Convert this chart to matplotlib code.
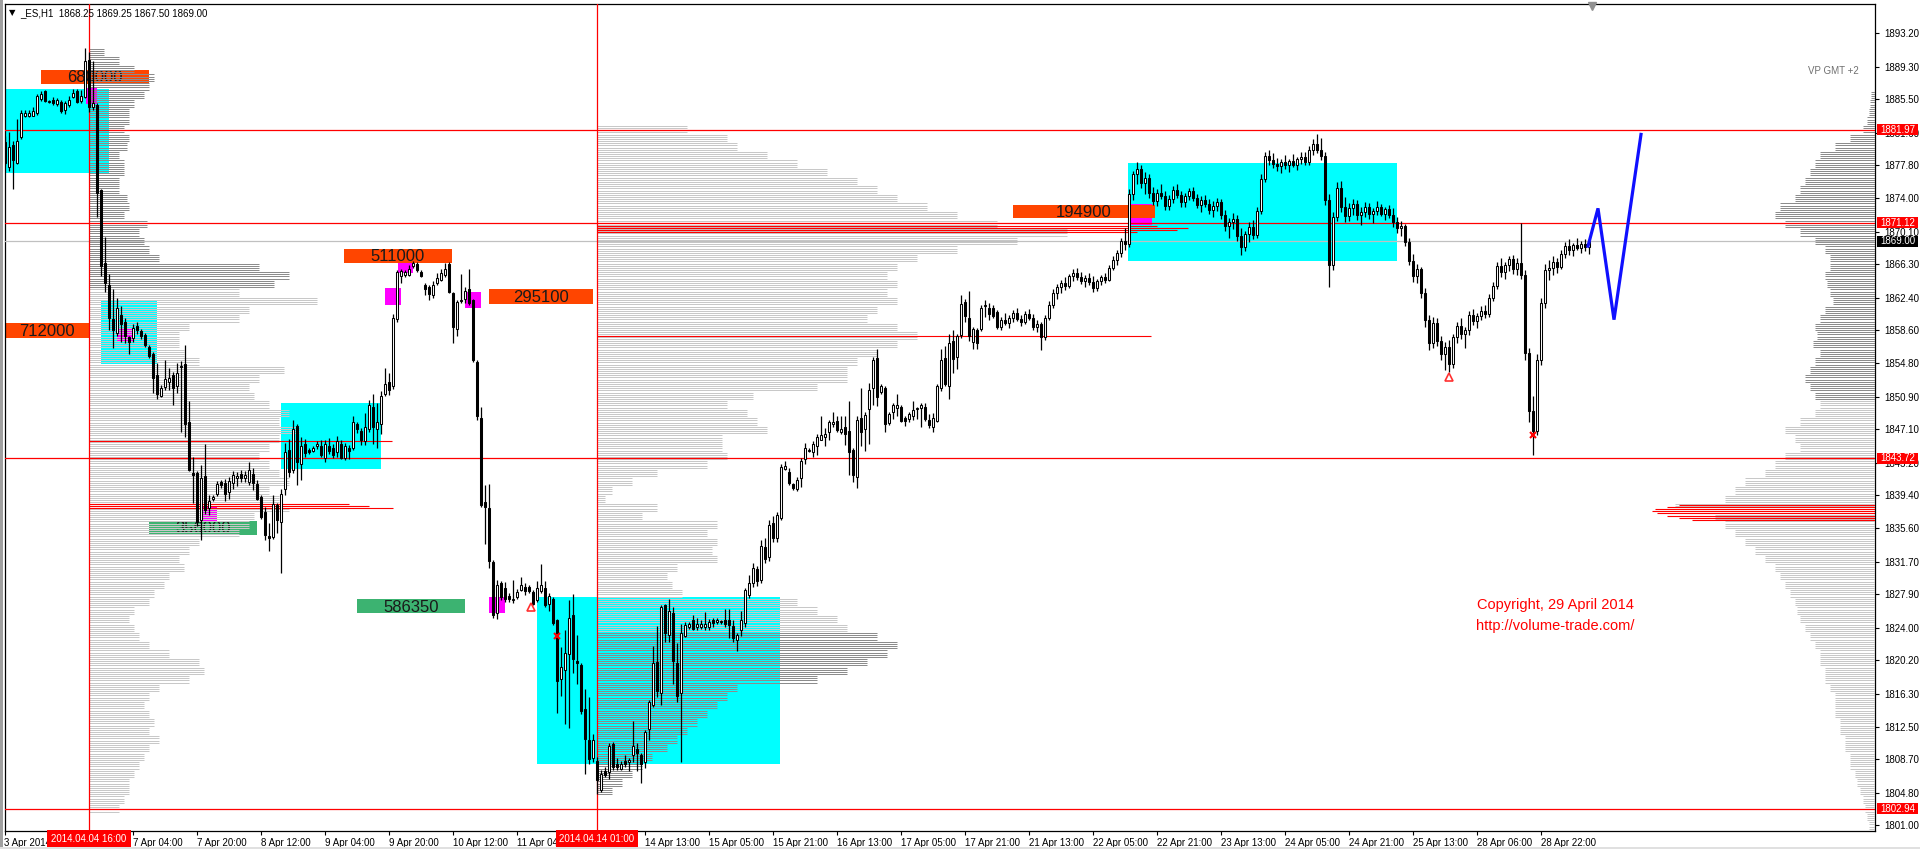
import numpy as np
import matplotlib
matplotlib.use("Agg")
import matplotlib.pyplot as plt
from matplotlib.patches import Rectangle
import matplotlib.transforms as mtransforms

plt.rcParams['font.family'] = ['Liberation Sans', 'DejaVu Sans']

# ---------------- data: hourly ES candles (bar index = hour slot) ----------------
opens = [
 1880.5,1877.6,1880.2,1878.1,1881.1,1883.6,1883.6,1883.6,1883.9,1885.5,
 1886.5,1885.2,1885.4,1884.9,1885.2,1884.2,1884.8,1885.8,1886.5,1885.3,
 1885.8,1890.1,1884.6,1884.8,1874.9,1866.4,1863.9,1859.9,1858.3,1860.4,
 1859.6,1857.8,1857.7,1859.1,1858.5,1858.1,1856.7,1855.9,1853.4,1851.0,
 1852.0,1852.6,1853.4,1852.1,1854.4,1854.7,1847.9,1842.0,1842.0,1836.5,
 1841.7,1837.9,1839.0,1839.6,1841.0,1840.9,1839.8,1840.8,1841.4,1841.9,
 1841.4,1841.0,1841.9,1840.7,1839.2,1837.5,1834.7,1834.6,1838.3,1836.3,
 1840.1,1844.7,1842.4,1847.5,1843.1,1845.4,1844.7,1844.6,1845.1,1845.2,
 1843.8,1845.2,1844.9,1844.4,1845.4,1843.8,1844.9,1844.9,1847.7,1846.9,
 1845.7,1847.1,1849.7,1847.1,1847.7,1851.2,1852.6,1852.1,1859.9,1864.9,
 1865.0,1865.1,1866.1,1866.3,1865.4,1863.9,1863.6,1862.7,1864.1,1864.5,
 1865.1,1866.3,1862.9,1858.8,1862.0,1862.2,1863.4,1862.1,1854.9,1848.4,
 1838.6,1837.9,1831.6,1825.7,1829.2,1828.6,1827.7,1827.2,1827.6,1828.4,
 1828.7,1828.7,1828.2,1827.2,1828.3,1828.6,1826.8,1827.4,1824.9,1818.1,
 1819.1,1820.9,1825.5,1820.1,1819.7,1814.6,1810.9,1808.9,1808.5,1805.1,
 1807.3,1807.2,1810.5,1808.1,1807.6,1808.5,1808.4,1809.2,1809.9,1809.2,
 1808.4,1812.2,1815.0,1820.0,1816.4,1826.6,1823.2,1825.7,1819.9,1816.4,
 1823.0,1824.1,1824.9,1824.1,1824.1,1824.1,1824.1,1824.9,1824.7,1824.7,
 1824.9,1824.9,1824.2,1822.6,1823.7,1824.6,1827.8,1829.2,1830.8,1829.6,
 1833.4,1832.2,1836.2,1834.4,1836.8,1842.5,1842.1,1840.7,1840.1,1841.4,
 1843.6,1844.6,1844.4,1845.1,1845.9,1846.2,1846.8,1847.7,1848.1,1846.8,
 1847.4,1846.9,1844.7,1841.6,1848.4,1847.1,1849.4,1851.9,1855.4,1851.4,
 1851.9,1847.8,1849.1,1849.6,1849.7,1848.4,1848.3,1848.6,1849.4,1849.6,
 1849.7,1848.2,1847.4,1848.1,1851.9,1855.4,1852.1,1857.4,1855.5,1858.1,
 1861.9,1860.1,1857.3,1858.6,1858.8,1861.4,1861.2,1861.2,1860.7,
 1859.0,1859.8,1859.5,1860.1,1860.6,1859.9,1859.6,1860.5,1860.0,1859.0,
 1859.3,1857.8,1860.1,1861.6,1862.9,1863.6,1864.1,1863.8,1864.9,1865.3,
 1864.8,1864.4,1864.7,1864.2,1863.5,1864.3,1864.8,1864.5,1865.9,1866.8,
 1867.6,1869.0,1868.6,1874.5,1876.8,1877.4,1875.8,1876.3,1874.6,1873.7,
 1874.6,1874.2,1873.1,1873.9,1874.9,1874.3,1873.5,1874.2,1874.8,1874.0,
 1873.2,1873.8,1873.3,1872.6,1873.1,1873.5,1872.0,1870.8,1871.2,1871.6,
 1869.6,1868.3,1869.8,1870.6,1869.7,1872.5,1876.2,1878.9,1878.4,1878.0,
 1877.7,1878.2,1877.8,1878.3,1877.9,1878.5,1878.8,1878.2,1879.6,1880.3,
 1879.6,1878.9,1873.8,1866.2,1871.8,1875.2,1873.0,1871.9,1872.8,1873.3,
 1872.0,1872.4,1873.0,1872.1,1872.5,1872.9,1872.2,1872.7,1872.0,1871.2,
 1870.5,1870.8,1868.9,1866.7,1864.9,1865.7,1862.9,1859.8,1857.1,1859.5,
 1857.4,1855.8,1856.7,1854.7,1857.8,1859.1,1858.2,1858.6,1860.4,1859.7,
 1860.3,1860.9,1860.5,1862.4,1863.8,1866.1,1865.4,1866.2,1866.9,1865.8,
 1866.5,1865.1,1856.0,1849.2,1846.9,1855.2,1861.8,1865.6,1865.9,1866.6,
 1866.0,1867.5,1868.4,1867.9,1868.5,1868.2,1868.7,1868.25]
highs = [
 1881.2,1881.7,1880.6,1883.2,1884.2,1884.3,1884.2,1884.6,1886.1,1886.5,
 1886.6,1885.4,1885.8,1885.6,1885.4,1885.3,1885.9,1886.7,1886.7,1886.6,
 1891.4,1891.0,1889.9,1885.0,1875.0,1869.5,1865.2,1863.4,1862.4,1861.4,
 1860.0,1858.0,1859.3,1859.6,1858.8,1858.3,1856.9,1856.1,1854.8,1852.2,
 1855.2,1854.2,1853.8,1854.8,1855.0,1856.9,1850.4,1843.9,1842.2,1842.9,
 1845.4,1839.4,1839.4,1841.1,1841.2,1841.3,1841.5,1842.2,1842.1,1842.4,
 1842.3,1843.3,1842.6,1841.2,1839.5,1838.0,1836.2,1839.5,1838.5,1840.2,
 1845.5,1846.0,1848.2,1847.7,1846.2,1846.0,1844.9,1845.1,1845.7,1845.9,
 1845.9,1846.1,1845.4,1846.3,1845.8,1845.5,1845.3,1848.6,1848.0,1847.2,
 1849.0,1850.5,1851.2,1850.1,1851.6,1854.2,1853.6,1860.5,1865.6,1865.7,
 1865.6,1866.2,1866.7,1866.6,1865.6,1864.1,1863.9,1864.4,1865.3,1865.8,
 1866.4,1866.6,1863.1,1862.1,1865.2,1863.7,1865.8,1862.3,1855.1,1849.7,
 1840.6,1840.7,1831.9,1829.6,1829.5,1829.3,1828.0,1829.6,1828.5,1829.9,
 1829.2,1829.0,1828.4,1829.4,1831.4,1829.4,1828.0,1827.6,1825.0,1821.8,
 1823.7,1827.2,1827.9,1823.2,1819.9,1816.9,1815.9,1811.6,1809.0,1807.5,
 1807.8,1810.6,1810.7,1808.9,1808.5,1809.2,1808.9,1813.1,1810.6,1809.4,
 1812.1,1815.6,1821.9,1824.2,1826.6,1826.8,1827.4,1826.4,1822.2,1824.4,
 1824.7,1824.7,1825.5,1825.1,1824.9,1825.8,1825.0,1825.1,1825.1,1824.9,
 1826.2,1826.2,1824.9,1823.4,1825.9,1828.6,1830.1,1831.5,1831.2,1834.2,
 1834.5,1836.5,1837.0,1837.5,1843.0,1843.4,1842.6,1840.9,1841.6,1843.7,
 1845.5,1844.9,1845.7,1846.6,1848.7,1847.2,1848.2,1849.1,1848.6,1848.6,
 1848.6,1850.4,1844.9,1848.6,1851.9,1849.1,1852.5,1855.5,1856.4,1852.4,
 1852.1,1849.1,1850.2,1851.2,1849.9,1848.6,1849.1,1850.4,1849.7,1850.1,
 1850.1,1848.9,1849.0,1852.4,1856.4,1856.8,1858.2,1858.6,1858.2,1862.7,
 1862.3,1863.2,1859.0,1858.9,1861.5,1862.1,1861.8,1861.5,1861.0,
 1860.2,1860.6,1860.4,1861.0,1861.2,1860.4,1860.8,1861.1,1860.5,1859.8,
 1859.6,1860.4,1862.0,1863.4,1864.0,1864.5,1864.8,1865.2,1865.8,1865.9,
 1865.4,1865.0,1865.3,1864.9,1864.6,1865.1,1865.3,1866.2,1867.3,1868.0,
 1869.4,1870.5,1875.0,1877.2,1878.2,1877.9,1877.0,1876.8,1875.3,1875.0,
 1875.6,1874.8,1874.3,1875.4,1875.6,1874.8,1874.6,1875.2,1875.3,1874.5,
 1874.2,1874.4,1873.9,1873.6,1874.0,1873.9,1872.6,1871.7,1872.3,1872.0,
 1870.5,1870.2,1871.2,1871.5,1872.9,1876.8,1879.4,1879.6,1879.2,1878.7,
 1878.6,1879.0,1878.5,1879.1,1878.8,1879.3,1879.4,1880.1,1880.9,1881.4,
 1881.0,1879.3,1874.5,1872.4,1875.9,1876.0,1874.1,1873.4,1873.9,1873.8,
 1872.9,1873.5,1873.4,1872.8,1873.6,1873.3,1873.0,1873.2,1872.8,1871.8,
 1871.3,1871.0,1869.4,1867.5,1866.3,1866.0,1863.5,1860.4,1860.2,1860.1,
 1858.0,1857.3,1857.5,1858.2,1859.6,1860.0,1859.0,1860.8,1861.1,1860.6,
 1861.4,1861.5,1862.8,1864.2,1866.6,1867.0,1866.6,1867.3,1867.4,1867.0,
 1871.1,1865.6,1856.6,1851.0,1855.9,1862.4,1866.3,1866.8,1867.2,1867.0,
 1867.9,1868.9,1869.2,1868.8,1869.3,1869.0,1869.2,1869.25]
lows = [
 1877.8,1877.2,1875.1,1878.0,1880.9,1883.4,1883.4,1883.5,1883.7,1885.3,
 1885.2,1885.0,1884.8,1884.7,1883.9,1883.8,1884.6,1885.6,1885.0,1885.1,
 1885.6,1884.0,1884.2,1871.8,1864.9,1863.1,1858.6,1856.5,1858.0,1857.3,
 1857.1,1855.9,1857.2,1858.2,1857.6,1856.7,1855.4,1851.3,1850.6,1850.8,
 1851.7,1851.7,1849.9,1851.3,1846.8,1846.2,1842.2,1838.5,1835.9,1834.2,
 1837.2,1837.1,1838.8,1839.3,1840.3,1838.8,1839.0,1840.2,1840.5,1841.0,
 1841.0,1840.6,1840.0,1838.9,1836.7,1834.2,1832.9,1834.3,1835.0,1830.4,
 1839.5,1841.5,1842.0,1840.6,1841.2,1843.9,1844.2,1844.4,1844.8,1843.9,
 1843.3,1844.2,1843.7,1843.9,1843.6,1843.5,1843.6,1844.7,1846.7,1845.3,
 1845.3,1846.8,1845.4,1844.9,1846.6,1851.0,1851.1,1851.8,1859.6,1864.1,
 1864.8,1864.9,1865.9,1865.4,1864.8,1862.7,1862.1,1862.4,1863.9,1864.3,
 1864.8,1862.9,1857.1,1857.9,1861.8,1861.8,1861.6,1854.9,1848.2,1838.0,
 1833.8,1830.9,1825.1,1825.0,1827.2,1827.0,1827.0,1826.9,1827.3,1828.3,
 1827.8,1828.0,1826.6,1827.0,1828.0,1826.4,1825.9,1824.3,1814.1,1816.1,
 1812.8,1812.4,1818.7,1817.5,1814.0,1807.0,1808.2,1808.4,1804.7,1804.9,
 1806.7,1806.4,1807.5,1807.4,1807.4,1807.8,1807.3,1808.4,1807.3,1805.9,
 1807.7,1810.9,1814.8,1815.9,1815.0,1822.4,1822.4,1817.5,1815.4,1808.4,
 1822.9,1823.9,1823.8,1823.7,1823.9,1823.7,1823.7,1824.1,1824.5,1824.5,
 1824.1,1822.8,1822.4,1821.3,1823.0,1824.1,1827.5,1828.8,1828.9,1829.2,
 1831.5,1831.8,1834.0,1834.0,1836.5,1842.4,1840.6,1840.0,1839.9,1840.4,
 1843.1,1844.4,1843.9,1844.1,1845.8,1845.1,1845.9,1847.4,1846.8,1846.6,
 1845.3,1841.8,1841.0,1840.3,1845.1,1844.6,1845.4,1849.9,1849.8,1851.2,
 1846.8,1847.6,1848.3,1848.6,1847.9,1847.5,1848.0,1848.2,1848.3,1847.4,
 1848.1,1847.3,1846.8,1847.9,1851.6,1852.1,1850.6,1853.6,1854.1,1857.7,
 1859.6,1857.4,1856.4,1856.4,1858.5,1860.2,1859.8,1860.0,1858.8,
 1858.6,1859.2,1858.9,1859.6,1859.7,1859.1,1859.3,1859.8,1858.6,1858.4,
 1856.3,1857.5,1859.8,1861.2,1862.3,1863.0,1863.3,1863.5,1864.4,1864.5,
 1864.0,1863.6,1863.9,1863.1,1863.2,1863.9,1864.1,1864.3,1865.6,1866.2,
 1867.1,1867.9,1868.3,1873.8,1875.6,1875.2,1874.5,1874.0,1873.2,1873.1,
 1873.9,1872.6,1872.6,1873.4,1874.0,1873.0,1872.9,1873.8,1873.6,1872.8,
 1872.4,1872.9,1872.1,1871.8,1872.5,1871.6,1870.2,1869.4,1870.4,1869.0,
 1867.4,1867.8,1868.9,1869.2,1869.4,1872.1,1875.9,1877.8,1877.5,1877.2,
 1876.9,1877.4,1877.0,1877.6,1877.3,1878.0,1877.9,1877.8,1879.0,1879.2,
 1878.4,1873.2,1863.6,1865.6,1871.3,1872.4,1871.2,1871.3,1872.0,1871.5,
 1870.9,1871.8,1871.6,1871.1,1872.0,1871.9,1871.4,1871.7,1870.6,1869.9,
 1869.6,1868.4,1866.2,1864.2,1864.1,1862.4,1859.0,1856.3,1856.5,1856.8,
 1855.1,1854.0,1853.8,1854.2,1857.1,1857.6,1856.6,1858.1,1859.2,1858.9,
 1859.8,1860.0,1860.2,1862.0,1863.4,1864.8,1864.6,1865.5,1865.2,1865.1,
 1864.6,1855.2,1848.0,1844.1,1846.4,1854.6,1861.2,1864.5,1865.1,1865.3,
 1865.7,1867.0,1867.4,1867.2,1867.9,1867.6,1867.8,1867.50]
closes = [
 1878.1,1879.9,1878.4,1880.6,1883.9,1883.9,1883.9,1884.1,1885.9,1886.1,
 1885.3,1885.2,1885.0,1885.4,1884.1,1885.1,1885.4,1886.2,1885.2,1885.9,
 1889.9,1884.6,1885.1,1874.6,1866.1,1864.1,1860.1,1858.6,1861.2,1859.4,
 1857.9,1857.3,1858.9,1858.6,1857.9,1856.9,1855.6,1853.1,1851.2,1851.9,
 1852.9,1853.1,1851.9,1853.6,1854.5,1847.7,1842.4,1841.8,1836.3,1841.4,
 1837.7,1838.7,1839.2,1840.7,1840.6,1839.6,1841.1,1841.8,1841.7,1841.4,
 1841.8,1842.4,1840.9,1839.0,1836.9,1834.8,1834.4,1838.4,1836.6,1839.6,
 1844.5,1842.1,1847.1,1843.3,1845.2,1844.3,1844.4,1844.9,1845.4,1844.1,
 1845.4,1844.6,1844.1,1845.7,1843.7,1845.1,1844.6,1847.9,1847.1,1845.9,
 1847.4,1849.9,1847.4,1847.9,1851.0,1852.4,1851.7,1860.1,1865.4,1865.5,
 1865.4,1865.8,1866.5,1865.6,1864.9,1863.4,1862.8,1863.9,1864.7,1865.3,
 1865.8,1863.1,1859.0,1861.9,1862.1,1863.2,1861.8,1855.1,1848.6,1838.3,
 1838.1,1831.8,1825.5,1829.0,1827.6,1827.3,1827.4,1827.4,1828.2,1829.0,
 1828.3,1828.3,1826.8,1828.6,1829.0,1826.6,1827.7,1824.6,1817.8,1819.4,
 1821.1,1825.1,1820.4,1819.9,1814.3,1811.1,1808.7,1810.9,1806.3,1807.0,
 1806.9,1810.2,1807.8,1807.8,1808.2,1808.1,1808.6,1810.2,1809.4,1808.1,
 1811.9,1815.4,1819.9,1816.6,1826.4,1823.4,1825.9,1820.1,1816.1,1823.4,
 1824.3,1824.4,1823.9,1824.4,1824.4,1824.4,1824.7,1824.6,1824.9,1824.7,
 1824.5,1824.3,1822.8,1823.2,1824.9,1828.4,1829.2,1831.0,1829.5,1833.5,
 1832.0,1836.0,1834.5,1837.1,1842.7,1842.8,1840.9,1840.3,1841.2,1843.4,
 1844.9,1844.7,1845.4,1846.2,1846.4,1846.6,1847.9,1847.9,1847.0,1847.1,
 1846.6,1844.4,1841.8,1848.2,1846.8,1848.8,1851.7,1855.2,1850.9,1852.1,
 1847.7,1848.9,1849.9,1849.9,1848.1,1848.1,1848.9,1849.3,1849.6,1849.9,
 1848.3,1847.6,1848.4,1852.1,1855.2,1852.4,1857.1,1855.3,1857.9,1861.7,
 1860.3,1857.9,1858.8,1857.1,1861.2,1861.5,1860.5,1860.3,1859.0,
 1859.8,1859.5,1860.1,1860.6,1859.9,1859.6,1860.5,1860.0,1859.0,1859.3,
 1857.8,1860.1,1861.6,1862.9,1863.6,1864.1,1863.8,1864.9,1865.3,1864.8,
 1864.4,1864.7,1864.2,1863.5,1864.3,1864.8,1864.5,1865.9,1866.8,1867.6,
 1869.0,1868.6,1874.5,1876.8,1877.4,1875.8,1876.3,1874.6,1873.7,1874.6,
 1874.2,1873.1,1873.9,1874.9,1874.3,1873.5,1874.2,1874.8,1874.0,1873.2,
 1873.8,1873.3,1872.6,1873.1,1873.5,1872.0,1870.8,1871.2,1871.6,1869.6,
 1868.3,1869.8,1870.6,1869.7,1872.5,1876.2,1878.9,1878.4,1878.0,1877.7,
 1878.2,1877.8,1878.3,1877.9,1878.5,1878.8,1878.2,1879.6,1880.3,1879.6,
 1878.9,1873.8,1866.2,1871.8,1875.2,1873.0,1871.9,1872.8,1873.3,1872.0,
 1872.4,1873.0,1872.1,1872.5,1872.9,1872.2,1872.7,1872.0,1871.2,1870.5,
 1870.8,1868.9,1866.7,1864.9,1865.7,1862.9,1859.8,1857.1,1859.5,1857.4,
 1855.8,1856.7,1854.7,1857.8,1859.1,1858.2,1858.6,1860.4,1859.7,1860.3,
 1860.9,1860.5,1862.4,1863.8,1866.1,1865.4,1866.2,1866.9,1865.8,1866.5,
 1865.1,1856.0,1849.2,1846.9,1855.2,1861.8,1865.6,1865.9,1866.6,1866.0,
 1867.5,1868.4,1867.9,1868.5,1868.2,1868.7,1868.3,1869.00]

# x-axis labels (every 16 hourly bars)
xtick_bars = [32, 48, 64, 80, 96, 112, 128, 160, 176, 192, 208, 224, 240, 256,
              272, 288, 304, 320, 336, 352, 368, 384, 400]
xtick_text = ["7 Apr 04:00", "7 Apr 20:00", "8 Apr 12:00", "9 Apr 04:00", "9 Apr 20:00",
              "10 Apr 12:00", "11 Apr 04:00", "14 Apr 13:00", "15 Apr 05:00", "15 Apr 21:00",
              "16 Apr 13:00", "17 Apr 05:00", "17 Apr 21:00", "21 Apr 13:00", "22 Apr 05:00",
              "22 Apr 21:00", "23 Apr 13:00", "24 Apr 05:00", "24 Apr 21:00", "25 Apr 13:00",
              "28 Apr 06:00", "28 Apr 22:00"]
xtick_bars = xtick_bars[:len(xtick_text)]
ytick_vals = [1893.20, 1889.30, 1885.50, 1881.60, 1877.80, 1874.00, 1870.10, 1866.30,
              1862.40, 1858.60, 1854.80, 1850.90, 1847.10, 1843.20, 1839.40, 1835.60,
              1831.70, 1827.90, 1824.00, 1820.20, 1816.30, 1812.50, 1808.70, 1804.80, 1801.00]

# horizontal levels
red_levels = [1881.97, 1871.12, 1843.72, 1802.94]
last_price = 1869.00

# vertical time lines (bar index, label)
vlines_bars = [21, 148]
vlines_text = ["2014.04.04 16:00", "2014.04.14 01:00"]

# volume profiles: price level -> volume (relative)
left_prof_levels = list(range(1891, 1802, -1))
left_prof_vol = [15,30,45,65,60,55,45,40,40,35,40,38,30,35,35,30,30,38,40,35,
                 58,50,55,60,70,170,200,185,150,228,160,150,100,90,90,95,110,195,170,160,
                 165,180,200,190,210,190,180,170,180,190,200,180,190,200,165,160,150,110,100,90,
                 95,80,75,65,60,45,40,45,50,60,80,110,115,100,70,60,55,60,65,60,
                 70,60,55,50,45,40,40,35,30]
left_poc_prices = [1845.7, 1838.4, 1838.15, 1837.9]
left_poc_vol = [303, 260, 280, 304]

mid_prof_levels = list(range(1882, 1804, -1))
mid_prof_vol = [90,130,140,170,200,230,260,280,300,330,360,400,470,420,360,320,300,290,300,290,
                300,280,270,300,320,300,280,260,250,250,220,156,130,150,160,170,125,125,130,110,
                60,35,15,8,60,45,120,110,120,115,120,80,70,75,85,200,220,240,250,280,
                300,290,270,250,220,140,130,120,110,100,90,80,70,55,45,35,25,15]
mid_poc_prices = [1870.75, 1870.5, 1870.25, 1870.0, 1858.0]
mid_poc_vol = [560, 591, 580, 540, 554]

right_prof_levels = list(range(1886, 1800, -1))
right_prof_vol = [4,5,6,8,12,25,40,55,60,65,70,75,80,95,100,90,75,60,50,45,
                  45,50,48,45,42,50,55,60,58,62,55,60,65,70,65,60,55,60,75,90,
                  80,75,90,100,110,130,140,150,200,160,150,140,130,120,110,100,95,90,85,80,
                  78,75,70,65,60,55,55,50,50,45,40,40,40,35,35,30,30,25,25,20,
                  18,15,12,10,8,6]
right_poc_prices = [1838.3, 1838.05, 1837.8, 1837.55, 1837.3, 1837.05, 1836.8, 1836.55]
right_poc_vol = [196, 208, 220, 223, 218, 208, 196, 183]

# zones: (bar_start, bar_end, price_low, price_high)
cyan_zones = [(-0.2, 26.0, 1876.9, 1886.7), (24.0, 38.0, 1854.7, 1862.0),
              (69.0, 94.0, 1842.5, 1850.1), (133.0, 193.75, 1808.1, 1827.6),
              (280.75, 348.0, 1866.7, 1878.1)]
magenta_zones = [(20.25, 23.0, 1884.9, 1886.8), (28.0, 32.0, 1857.4, 1858.9),
                 (49.5, 53.0, 1836.4, 1838.2), (95.0, 99.0, 1861.6, 1863.5),
                 (98.25, 102.0, 1865.3, 1867.4), (115.0, 119.0, 1861.2, 1863.1),
                 (121.0, 125.0, 1825.7, 1827.6), (280.75, 286.75, 1870.9, 1873.3)]
orange_zones = [(9.0, 36.0, 1887.3, 1888.9), (0.0, 21.0, 1857.7, 1859.5),
                (84.75, 111.75, 1866.4, 1868.1), (121.0, 147.0, 1861.7, 1863.4),
                (252.0, 287.5, 1871.7, 1873.2)]
orange_text = ["680000", "712000", "511000", "295100", "194900"]
green_zones = [(36.0, 63.0, 1834.8, 1836.4), (88.0, 115.0, 1825.7, 1827.3)]
green_text = ["356000", "586350"]

forecast_bars = [395.75, 398.25, 402.25, 409.0]
forecast_prices = [1868.4, 1872.8, 1859.85, 1881.4]

# ---------------- figure ----------------
W, H = 1920, 849
fig = plt.figure(figsize=(W / 100, H / 100), dpi=100, facecolor='white')
L_px, R_px, T_px, B_px = 4.5, 1875.0, 4.3, 831.0
ax = fig.add_axes([L_px / W, 1 - B_px / H, (R_px - L_px) / W, (B_px - T_px) / H])
YMIN, YMAX = 1800.36, 1896.54
XMIN, XMAX = -0.125, 467.5
ax.set_xlim(XMIN, XMAX)
ax.set_ylim(YMIN, YMAX)
ax.set_facecolor('white')
for s in ax.spines.values():
    s.set_color('black')
    s.set_linewidth(0.9)

# outer window frame
fig.patches.append(Rectangle((0, 0), 2.5 / W, 1, transform=fig.transFigure,
                             facecolor='#a0a0a0', edgecolor='none'))
fig.patches.append(Rectangle((0, 0), 1, 2 / H, transform=fig.transFigure,
                             facecolor='#e0e0e0', edgecolor='none'))

# zones
for (x0, x1, p0, p1) in cyan_zones:
    ax.add_patch(Rectangle((x0, p0), x1 - x0, p1 - p0, facecolor='#00ffff',
                           edgecolor='none', zorder=1))
for (x0, x1, p0, p1) in magenta_zones:
    ax.add_patch(Rectangle((x0, p0), x1 - x0, p1 - p0, facecolor='#ff00ff',
                           edgecolor='none', zorder=1.5))
for (x0, x1, p0, p1), t in zip(orange_zones, orange_text):
    ax.add_patch(Rectangle((x0, p0), x1 - x0, p1 - p0, facecolor='#ff4500',
                           edgecolor='none', zorder=2))
    ax.text((x0 + x1) / 2, (p0 + p1) / 2 - 0.1, t, ha='center', va='center',
            fontsize=12, color='#1a1a1a', zorder=3)
for (x0, x1, p0, p1), t in zip(green_zones, green_text):
    ax.add_patch(Rectangle((x0, p0), x1 - x0, p1 - p0, facecolor='#3cb371',
                           edgecolor='none', zorder=2))
    ax.text((x0 + x1) / 2, (p0 + p1) / 2 - 0.1, t, ha='center', va='center',
            fontsize=12, color='#1a1a1a', zorder=3)

# volume profiles
SCALE = 0.25          # volume units -> bar units
SUB = [0.375, 0.125, -0.125, -0.375]


def draw_profile(levels, vols, anchor, sign, dark_hi, dark_lo):
    ys, x1s, cols = [], [], []
    for p, v in zip(levels, vols):
        col = '#8c8c8c' if dark_lo <= p <= dark_hi else '#c8c8c8'
        for off in SUB:
            ys.append(p + off)
            x1s.append(anchor + sign * v * SCALE)
            cols.append(col)
    ax.hlines(ys, anchor, x1s, colors=cols, linewidth=0.72, zorder=4)


def draw_poc(prices, vols, anchor, sign):
    ax.hlines(prices, anchor, [anchor + sign * v * SCALE for v in vols],
              colors='#ff0000', linewidth=0.8, zorder=4.6)


draw_profile(left_prof_levels, left_prof_vol, 21, 1, 1899, 1864)
draw_poc(left_poc_prices, left_poc_vol, 21, 1)
draw_profile(mid_prof_levels, mid_prof_vol, 148, 1, 1823.5, 1790)
draw_poc(mid_poc_prices, mid_poc_vol, 148, 1)
draw_profile(right_prof_levels, right_prof_vol, XMAX, -1, 1899, 1851)
draw_poc(right_poc_prices, right_poc_vol, XMAX, -1)

# horizontal and vertical lines
ax.axhline(last_price, color='#c0c0c0', linewidth=0.9, zorder=4.4)
for lv in red_levels:
    ax.axhline(lv, color='#ff0000', linewidth=0.9, zorder=4.5)
for xb in vlines_bars:
    ax.axvline(xb, color='#ff0000', linewidth=0.9, zorder=4.5)

# candles
o = np.array(opens); h = np.array(highs); l = np.array(lows); c = np.array(closes)
xs = np.arange(len(o))
up = c >= o
ax.vlines(xs, l, h, color='black', linewidth=0.9, zorder=5)
bot = np.minimum(o, c)
hgt = np.maximum(np.abs(c - o), 0.06)
ax.bar(xs, hgt, bottom=bot, width=0.55, color=np.where(up, 'white', 'black'),
       edgecolor='black', linewidth=0.75, zorder=6)

# forecast zigzag
ax.plot(forecast_bars, forecast_prices, color='#1010ff', linewidth=2.3,
        solid_joinstyle='miter', zorder=7)

# small signal markers
ax.plot([131.5, 361.0], [1826.4, 1853.2], marker='^', markersize=6, mfc='white',
        mec='#ff3030', mew=1.2, linestyle='none', zorder=8)
ax.plot([138.0, 382.0], [1823.0, 1846.4], marker='x', markersize=4, mec='#ff0000',
        mew=1.5, linestyle='none', zorder=8)

# axes ticks
ax.yaxis.tick_right()
ax.set_yticks(ytick_vals)
ax.set_yticklabels(['%.2f' % v for v in ytick_vals], fontsize=7)
ax.tick_params(axis='y', direction='out', length=3, width=0.8, pad=4, colors='black')
ax.set_xticks([XMIN] + xtick_bars)
ax.set_xticklabels(["3 Apr 2014"] + xtick_text, fontsize=7)
for lab in ax.get_xticklabels():
    lab.set_horizontalalignment('left')
ax.tick_params(axis='x', direction='out', length=3, width=0.8, pad=2)

# price tags on the right axis
tr_y = mtransforms.blended_transform_factory(ax.transAxes, ax.transData)
ax_w_px = R_px - L_px
tag_x0 = (1877 - L_px) / ax_w_px - 1.0
tag_w = 41 / ax_w_px
tag_h = 11 / 8.595
for lv, col in [(1881.97, '#ff0000'), (1871.12, '#ff0000'), (1869.00, '#000000'),
                (1843.72, '#ff0000'), (1802.94, '#ff0000')]:
    ax.add_patch(Rectangle((1.0 + tag_x0, lv - tag_h / 2), tag_w, tag_h, transform=tr_y,
                           facecolor=col, edgecolor='none', clip_on=False, zorder=30))
    ax.text(1.0 + tag_x0 + 3 / ax_w_px, lv, '%.2f' % lv, transform=tr_y, ha='left',
            va='center', fontsize=7, color='white', clip_on=False, zorder=31)

# time tags on the bottom axis
tr_x = mtransforms.blended_transform_factory(ax.transData, ax.transAxes)
for xb, t in zip(vlines_bars, vlines_text):
    ax.text(xb, -(839 - B_px) / (B_px - T_px), t, transform=tr_x, ha='center', va='center',
            fontsize=7, color='white', clip_on=False, zorder=31,
            bbox=dict(boxstyle='square,pad=0.4', facecolor='#ff0000', edgecolor='none'))

# header, watermark texts
fig.text(9 / W, 1 - 13 / H, '\u25bc', fontsize=6, ha='left', va='center',
         family=['DejaVu Sans'])
fig.text(20 / W, 1 - 13 / H, '_ES,H1  1868.25 1869.25 1867.50 1869.00', fontsize=7,
         ha='left', va='center', color='black')
fig.text(1808 / W, 1 - 71 / H, 'VP GMT +2', fontsize=7, ha='left', va='center',
         color='#707070')
ax.text(1555 / 4 - 1.25, 1893.2 - (605 - 33) / 8.595, 'Copyright, 29 April 2014',
        ha='center', va='center', fontsize=10.5, color='#ff0000', zorder=8)
ax.text(1555 / 4 - 1.25, 1893.2 - (626 - 33) / 8.595, 'http://volume-trade.com/',
        ha='center', va='center', fontsize=10.5, color='#ff0000', zorder=8)
ax.plot([396.75], [YMAX - 0.2], marker='v', markersize=6, color='#909090',
        clip_on=False, zorder=9)

fig.savefig('out.png', dpi=100, facecolor='white')
